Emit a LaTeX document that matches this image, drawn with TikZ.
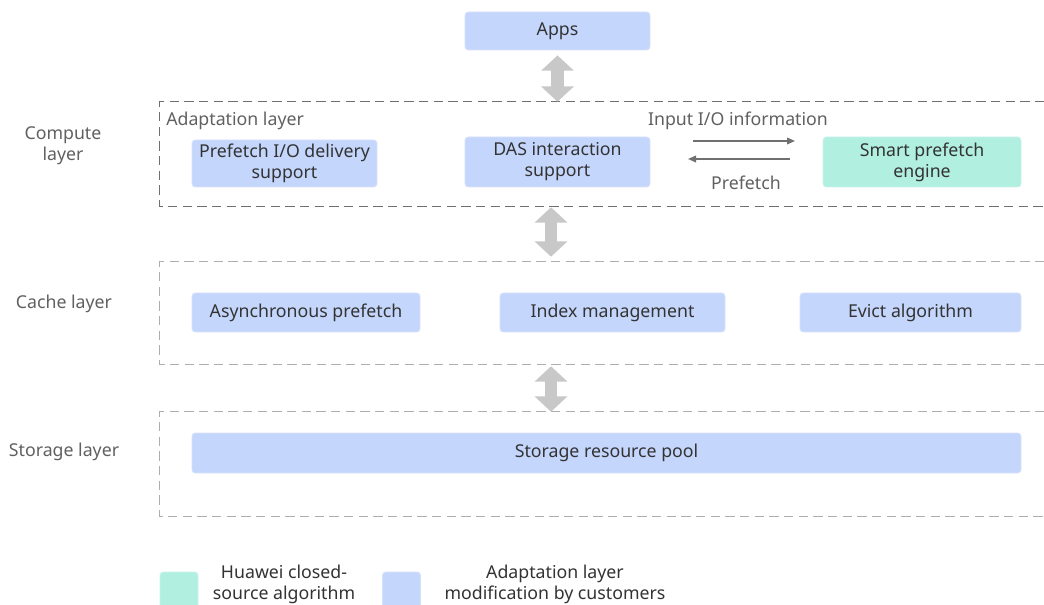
\documentclass[tikz,border=0pt]{standalone}
\usepackage{fontspec}
\setmainfont{Noto Sans}
\usetikzlibrary{arrows.meta}
\definecolor{boxblue}{HTML}{C5D6FC}
\definecolor{boxblueline}{HTML}{D6E1FA}
\definecolor{boxgreen}{HTML}{B1EFE0}
\definecolor{boxgreenline}{HTML}{CBF3E9}
\definecolor{txt}{HTML}{333333}
\definecolor{lbl}{HTML}{606060}
\definecolor{darkdash}{HTML}{707070}
\definecolor{lightdash}{HTML}{AEAEAE}
\definecolor{bigarrow}{HTML}{C8C8C8}
\definecolor{smallarrow}{HTML}{707070}
\begin{document}
\begin{tikzpicture}[x=0.75pt,y=-0.75pt,
  every node/.style={font=\fontsize{13.3}{15.8}\selectfont, inner sep=0pt, align=center},
  blk/.style={draw=boxblueline, fill=boxblue, rounded corners=2.5pt, line width=0.6pt, text=txt},
  gblk/.style={draw=boxgreenline, fill=boxgreen, rounded corners=2.5pt, line width=0.6pt, text=txt},
  frame/.style={draw=none, fill=none},
  framedark/.style={draw=darkdash, line width=1pt, dash pattern=on 7pt off 4pt},
  framelight/.style={draw=lightdash, line width=1pt, dash pattern=on 7pt off 4pt},
  layerlbl/.style={text=lbl},
  flowlbl/.style={text=lbl},
  bigdbl/.style={draw=bigarrow, line width=9.5pt,
    {Triangle[length=11.5pt 0, width=24pt 0]}-{Triangle[length=11.5pt 0, width=24pt 0]}},
  flow/.style={draw=smallarrow, line width=1.1pt, -{Triangle[length=6pt 0, width=5pt 0]}}
]
\useasboundingbox (0,0) rectangle (1044,605);

% layer frames (open on the right)
\node[frame, minimum width=884*0.75pt, minimum height=104*0.75pt] (compute) at (602,154) {};
\node[frame, minimum width=884*0.75pt, minimum height=102*0.75pt] (cache) at (602,313) {};
\node[frame, minimum width=884*0.75pt, minimum height=104*0.75pt] (storage) at (602,464) {};
\draw[framedark] (compute.north east) -- (compute.north west) -- (compute.south west) -- (compute.south east);
\draw[framelight] (cache.north east) -- (cache.north west) -- (cache.south west) -- (cache.south east);
\draw[framelight] (storage.north east) -- (storage.north west) -- (storage.south west) -- (storage.south east);

% layer names
\node[layerlbl] (lcompute) at (63,146) {Compute\\layer};
\node[layerlbl] (lcache) at (64,304) {Cache layer};
\node[layerlbl] (lstorage) at (64,452) {Storage layer};
\node[flowlbl, anchor=west] (ladapt) at (166,121) {Adaptation layer};

% blocks
\node[blk, minimum width=185*0.75pt, minimum height=38*0.75pt] (apps) at (557.5,31) {Apps};
\node[blk, minimum width=185*0.75pt, minimum height=47*0.75pt] (pio) at (284.5,163.5) {Prefetch I/O delivery\\support};
\node[blk, minimum width=185*0.75pt, minimum height=50*0.75pt] (das) at (557.5,162) {DAS interaction\\support};
\node[gblk, minimum width=198*0.75pt, minimum height=50*0.75pt] (smart) at (922,162) {Smart prefetch\\engine};
\node[blk, minimum width=228*0.75pt, minimum height=39*0.75pt] (async) at (306,312.5) {Asynchronous prefetch};
\node[blk, minimum width=225*0.75pt, minimum height=39*0.75pt] (index) at (612.5,312.5) {Index management};
\node[blk, minimum width=221*0.75pt, minimum height=39*0.75pt] (evict) at (910.5,312.5) {Evict algorithm};
\node[blk, minimum width=829*0.75pt, minimum height=40*0.75pt] (pool) at (606.5,453) {Storage resource pool};

% vertical links between layers
\coordinate (ax) at (551,0);
\draw[bigdbl] ([yshift=-3.75pt]apps.south) -- (apps.south |- compute.north);
\draw[bigdbl] ([yshift=-0.75pt]ax |- compute.south) -- ([yshift=3.75pt]ax |- cache.north);
\draw[bigdbl] ([yshift=-1.5pt]ax |- cache.south) -- (ax |- storage.north);

% exchange with the prefetch engine
\coordinate (ioA) at (693,141);
\coordinate (ioB) at (795,141);
\coordinate (pfA) at (790,159);
\coordinate (pfB) at (688,159);
\draw[flow] (ioA) -- (ioB);
\draw[flow] (pfA) -- (pfB);
\node[flowlbl] (lio) at (738,121) {Input I/O information};
\node[flowlbl] (lpf) at (746,183) {Prefetch};

% legend
\node[gblk, minimum width=38*0.75pt, minimum height=42*0.75pt] (keygreen) at (179,593) {};
\node[text=txt] (keygreentxt) at (284,584) {Huawei closed-\\source algorithm};
\node[blk, minimum width=38*0.75pt, minimum height=42*0.75pt] (keyblue) at (401.5,593) {};
\node[text=txt] (keybluetxt) at (555,584) {Adaptation layer\\modification by customers};
\end{tikzpicture}
\end{document}
